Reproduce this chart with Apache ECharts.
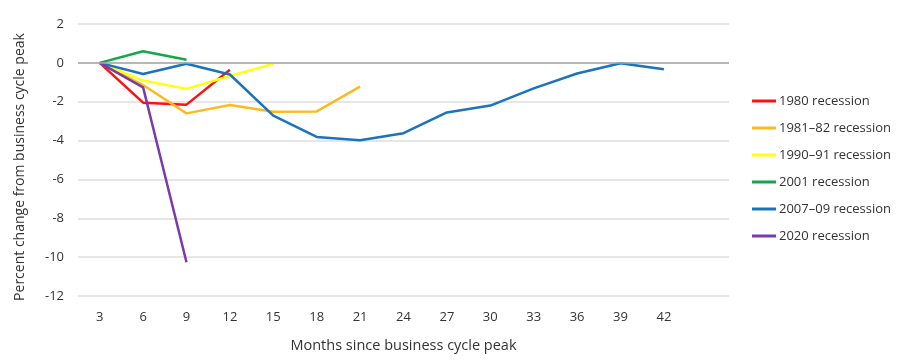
<!DOCTYPE html>
<html><head><meta charset="utf-8">
<script src="https://cdn.jsdelivr.net/npm/echarts@6/dist/echarts.min.js"></script>
<style>html,body{margin:0;padding:0;background:#fff}#c{width:915px;height:361px}</style>
</head><body><div id="c"></div>
<script>
const months = ['3','6','9','12','15','18','21','24','27','30','33','36','39','42',''];
const r1980 = [0, -2.05, -2.15, -0.35];
const r1981 = [0, -1.14, -2.6, -2.17, -2.52, -2.5, -1.22];
const r1990 = [0, -0.91, -1.34, -0.68, -0.05];
const r2001 = [0, 0.6, 0.16];
const r2007 = [0, -0.57, -0.05, -0.6, -2.72, -3.81, -3.98, -3.62, -2.55, -2.2, -1.31, -0.55, -0.02, -0.33];
const r2020 = [0, -1.26, -10.26];
const names = ['1980 recession','1981–82 recession','1990–91 recession','2001 recession','2007–09 recession','2020 recession'];
const colors = ['#ff1010','#fbbb20','#ffff10','#12a84a','#1a73bd','#7a3aa8'];
const datas = [r1980, r1981, r1990, r2001, r2007, r2020];
const yTicks = {min:-12, max:2, interval:2};

const chart = echarts.init(document.getElementById('c'));
const font = 'Open Sans';
chart.setOption({
  animation:false,
  textStyle:{fontFamily:font},
  grid:{left:78, right:186, top:24, bottom:65},
  legend:{orient:'vertical', left:747, top:89, itemWidth:24, itemHeight:3, itemGap:13,
    icon:'rect',
    textStyle:{fontFamily:font, fontSize:13, color:'#333', lineHeight:14, padding:[0,0,0,-2]}, data:names},
  xAxis:{type:'category', data:months, boundaryGap:true,
    name:'Months since business cycle peak', nameLocation:'middle', nameGap:42,
    nameTextStyle:{fontFamily:font, fontSize:14.5, color:'#333'},
    axisLine:{show:false}, axisTick:{show:false},
    axisLabel:{margin:15, fontSize:13, color:'#333', fontFamily:'Liberation Sans Narrow, Open Sans'}},
  yAxis:{type:'value', min:yTicks.min, max:yTicks.max, interval:yTicks.interval,
    name:'Percent change from business cycle peak', nameLocation:'middle', nameGap:51, nameRotate:90,
    nameTextStyle:{fontFamily:font, fontSize:14, color:'#333', padding:[0,14,0,0]},
    axisLine:{show:false}, axisTick:{show:false},
    axisLabel:{margin:14, fontSize:13, color:'#333', fontFamily:'Liberation Sans Narrow, Open Sans',
      formatter:v=>String(v)},
    splitLine:{lineStyle:{color:'#dedede', width:1.5}}},
  series: datas.map((d,i)=>({
    name:names[i], type:'line', data:d, symbol:'none', color:colors[i],
    lineStyle:{width:2.5, color:colors[i]},
    markLine: i===0 ? {silent:true, symbol:'none', label:{show:false},
      lineStyle:{color:'#a6a6a6', width:1.5, type:'solid'}, data:[{yAxis:0}]} : undefined
  }))
});
</script></body></html>
